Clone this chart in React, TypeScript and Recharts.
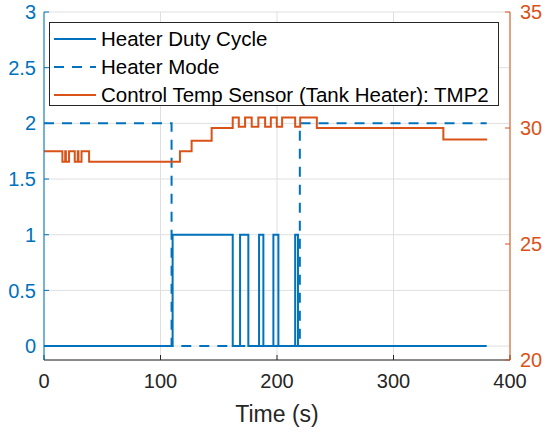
import React from "react";
import {
  ComposedChart,
  Line,
  XAxis,
  YAxis,
  CartesianGrid,
  Legend,
} from "recharts";

const BLUE = "#0072BD";
const ORANGE = "#D95319";
const AXIS = "#262626";
const FONT = '"Liberation Sans", Arial, Helvetica, sans-serif';

// tick labels
const timeTicks = [0, 100, 200, 300, 400];
const leftTicks = [0, 0.5, 1, 1.5, 2, 2.5, 3];
const rightTicks = [20, 25, 30, 35];

// Heater Duty Cycle (step changes)
const dutyTime = [0, 110.4, 162, 168.3, 175.4, 184.6, 188.3, 196.9, 201.2, 215.6, 218, 380];
const dutyValue = [0, 1, 0, 1, 0, 1, 0, 1, 0, 1, 0, 0];

// Heater Mode
const modeTime = [0, 109.5, 219.6, 380];
const modeValue = [2, 0, 2, 2];

// Control Temp Sensor (Tank Heater): TMP2, deg C
const tempTime = [
  0, 15.8, 18.2, 18.8, 21.5, 26.4, 29.0, 29.6, 32.2, 38.7, 116.7, 126.7, 143.9,
  162, 167.2, 172.6, 178.3, 184, 189.8, 194.7, 199.8, 204.4, 215.6, 219.9, 234.2,
  342.8, 380.4,
];
const tempValue = [
  29.0, 28.55, 29.0, 28.55, 29.0, 28.55, 29.0, 28.55, 29.0, 28.55, 29.0, 29.45, 30.0,
  30.45, 30.05, 30.45, 30.05, 30.45, 30.05, 30.45, 30.05, 30.45, 30.05, 30.45, 30.0,
  29.5, 29.5,
];

const toPoints = (t: number[], v: number[]) => t.map((x, i) => ({ t: x, v: v[i] }));

const series = [
  { name: "Heater Duty Cycle", color: BLUE, dash: undefined as string | undefined, axis: "left", data: toPoints(dutyTime, dutyValue) },
  { name: "Heater Mode", color: BLUE, dash: "10 8", axis: "left", data: toPoints(modeTime, modeValue) },
  { name: "Control Temp Sensor (Tank Heater): TMP2", color: ORANGE, dash: undefined as string | undefined, axis: "right", data: toPoints(tempTime, tempValue) },
];

function LegendBox() {
  return (
    <div
      style={{
        width: 450,
        height: 84,
        boxSizing: "border-box",
        border: `1.3px solid ${AXIS}`,
        background: "#fff",
        paddingTop: 2,
        fontFamily: FONT,
        fontSize: 20.5,
        color: "#000",
      }}
    >
      {series.map((s) => (
        <div key={s.name} style={{ display: "flex", alignItems: "center", height: 28 }}>
          <svg width={42} height={6} style={{ marginLeft: 4 }}>
            <line x1={0} y1={3} x2={42} y2={3} stroke={s.color} strokeWidth={2} strokeDasharray={s.dash} />
          </svg>
          <span style={{ marginLeft: 5, whiteSpace: "nowrap" }}>{s.name}</span>
        </div>
      ))}
    </div>
  );
}

export default function App() {
  return (
    <div style={{ position: "absolute", left: 0, top: 0, width: 551, height: 433, background: "#fff" }}>
      <ComposedChart width={551} height={433} margin={{ top: 12, right: 0, left: 0, bottom: 0 }} style={{ fontFamily: FONT }}>
        <CartesianGrid xAxisId="bottom" yAxisId="left" stroke="#dfdfdf" strokeWidth={1} />
        <XAxis
          xAxisId="bottom"
          dataKey="t"
          type="number"
          domain={[0, 400]}
          ticks={timeTicks}
          allowDataOverflow
          height={73}
          stroke={AXIS}
          tickSize={-5}
          tickMargin={19}
          tick={{ fill: AXIS, fontSize: 20 }}
          label={{ value: "Time (s)", position: "insideBottom", offset: 11, fill: AXIS, fontSize: 23 }}
        />
        <XAxis
          xAxisId="top"
          orientation="top"
          type="number"
          domain={[0, 400]}
          ticks={timeTicks}
          height={0}
          stroke={AXIS}
          tickSize={-5}
          tick={false}
        />
        <YAxis
          yAxisId="left"
          type="number"
          domain={[-0.125, 3]}
          ticks={leftTicks}
          allowDataOverflow
          width={44}
          stroke={BLUE}
          tickSize={-5}
          tickMargin={13}
          tick={{ fill: BLUE, fontSize: 20 }}
        />
        <YAxis
          yAxisId="right"
          orientation="right"
          type="number"
          domain={[20, 35]}
          ticks={rightTicks}
          allowDataOverflow
          width={41}
          stroke={ORANGE}
          tickSize={-5}
          tickMargin={15}
          tick={{ fill: ORANGE, fontSize: 20 }}
        />
        {series.map((s) => (
          <Line
            key={s.name}
            xAxisId="bottom"
            yAxisId={s.axis}
            data={s.data}
            dataKey="v"
            name={s.name}
            type="stepAfter"
            stroke={s.color}
            strokeWidth={2}
            strokeDasharray={s.dash}
            dot={false}
            activeDot={false}
            isAnimationActive={false}
          />
        ))}
        <Legend
          layout="vertical"
          align="center"
          verticalAlign="middle"
          wrapperStyle={{ left: 49, top: 22, width: 450 }}
          content={() => <LegendBox />}
        />
      </ComposedChart>
    </div>
  );
}
